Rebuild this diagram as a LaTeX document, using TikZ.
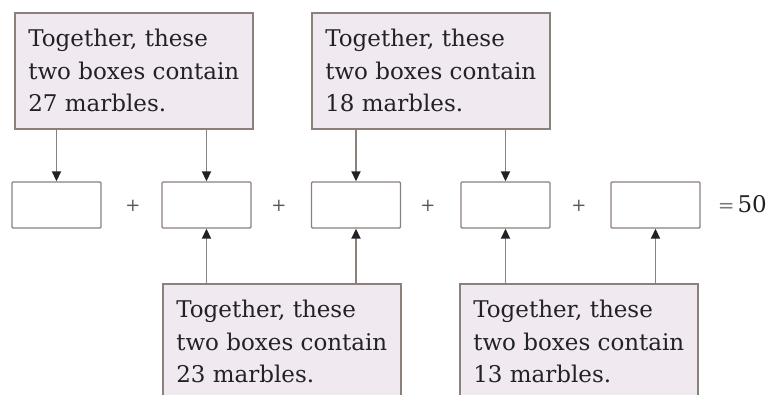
\documentclass[tikz,border=0pt]{standalone}
\usepackage{fontspec}
\setmainfont{DejaVu Serif}
\usetikzlibrary{arrows.meta}
\definecolor{callfill}{HTML}{F1E9F0}
\definecolor{edge}{HTML}{8C807B}
\definecolor{ink}{HTML}{222226}
\begin{document}
\begin{tikzpicture}[x=1pt,y=-1pt]
    \tikzset{callout/.style={rectangle, draw=edge, line width=1.6pt, fill=callfill, anchor=north west,
        minimum width=238pt, minimum height=116pt, align=left,
        inner sep=0pt, text=ink, font=\fontsize{23}{32.5}\selectfont}}
    \tikzset{slot/.style={rectangle, draw=edge, line width=1.4pt, fill=white, rounded corners=1pt,
        minimum width=89pt, minimum height=46pt, inner sep=0pt}}
    \tikzset{line/.style={draw=edge, line width=1.8pt, -{Triangle[width=9pt,length=10pt,fill=ink,color=ink]}}}
    \tikzset{op/.style={text=ink!75, font=\fontsize{18}{18}\selectfont, inner sep=0pt}}
    \clip (0,0) rectangle (769,394);
    \fill[white] (0,0) rectangle (769,394);

    \node[callout] (sumA) at (14,12) {Together, these\\two boxes contain\\27 marbles.};
    \node[callout] (sumB) at (311,12) {Together, these\\two boxes contain\\18 marbles.};
    \node[callout] (sumC) at (162,283) {Together, these\\two boxes contain\\23 marbles.};
    \node[callout] (sumD) at (459,283) {Together, these\\two boxes contain\\13 marbles.};

    \node[slot] (b1) at (56.5,205) {};
    \node[slot] (b2) at (206.5,205) {};
    \node[slot] (b3) at (356,205) {};
    \node[slot] (b4) at (505.5,205) {};
    \node[slot] (b5) at (655.5,205) {};

    \node[op] (p1) at (133,206) {+};
    \node[op] (p2) at (279,206) {+};
    \node[op] (p3) at (428,206) {+};
    \node[op] (p4) at (579,206) {+};
    \node[anchor=east, inner sep=0pt, text=ink, font=\fontsize{23}{23}\selectfont] (total) at (767,204)
        {{\fontsize{20}{20}\selectfont\color{ink!60}=}\kern3pt 50};

    \draw[line] (sumA.south -| b1) -- (b1.north);
    \draw[line] (sumA.south -| b2) -- (b2.north);
    \draw[line] (sumB.south -| b3) -- (b3.north);
    \draw[line] (sumB.south -| b4) -- (b4.north);
    \draw[line] (sumC.north -| b2) -- (b2.south);
    \draw[line] (sumC.north -| b3) -- (b3.south);
    \draw[line] (sumD.north -| b4) -- (b4.south);
    \draw[line] (sumD.north -| b5) -- (b5.south);
\end{tikzpicture}
\end{document}
